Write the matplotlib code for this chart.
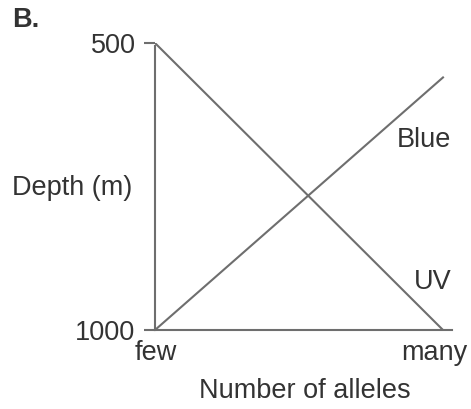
import matplotlib
matplotlib.use("Agg")
import matplotlib.pyplot as plt
import matplotlib.transforms as mtrans

# alleles axis: few -> many ; depth axis in metres (deeper = lower)
alleles = [0, 1]
alleles_labels = ["few", "many"]
depth_ticks = [500, 1000]
uv_depth = [500, 1000]
blue_depth = [1000, 560]

plt.rcParams['font.family'] = ['Liberation Sans', 'DejaVu Sans']
line_col = "#6e6e6e"
txt_col = "#333333"
fs = 19.5

fig = plt.figure(figsize=(4.71, 4.09), dpi=100)
ax = fig.add_axes([155/471, 1-330/409, 297/471, 287/409])

ax.plot(alleles, uv_depth, color=line_col, lw=1.5)
ax.plot(alleles, blue_depth, color=line_col, lw=1.5)

ax.set_xlim(0, 297/288)
ax.set_ylim(1000, 500)

for s in ["top", "right"]:
    ax.spines[s].set_visible(False)
for s in ["left", "bottom"]:
    ax.spines[s].set_color(line_col)
    ax.spines[s].set_linewidth(1.5)
ax.spines["left"].set_bounds(1000, 505)

ax.set_yticks(depth_ticks)
ax.set_yticklabels([str(v) for v in depth_ticks])
ax.tick_params(axis="y", length=8, width=1.5, color=line_col,
               labelsize=fs, labelcolor=txt_col, pad=6)
ax.set_xticks(alleles)
ax.set_xticklabels(alleles_labels)
ax.tick_params(axis="x", length=0, labelsize=fs, labelcolor=txt_col, pad=7)
# nudge the labels a bit like in the original
shifts = [1, -9]
for lab, dx in zip(ax.get_xticklabels(), shifts):
    lab.set_transform(lab.get_transform() +
                      mtrans.ScaledTranslation(dx/100, 0, fig.dpi_scale_trans))

fig.text(305/471, 1-391/409, "Number of alleles", fontsize=fs, color=txt_col,
         ha="center", va="center")
fig.text(12/471, 1-188/409, "Depth (m)", fontsize=fs, color=txt_col,
         ha="left", va="center")
fig.text(12/471, 1-20/409, "B.", fontsize=fs, fontweight="bold",
         color=txt_col, ha="left", va="center")

ax.text(0.934, 669, "Blue", fontsize=fs, color=txt_col, ha="center", va="center")
ax.text(0.965, 916, "UV", fontsize=fs, color=txt_col, ha="center", va="center")

fig.savefig("out.png", dpi=100)
